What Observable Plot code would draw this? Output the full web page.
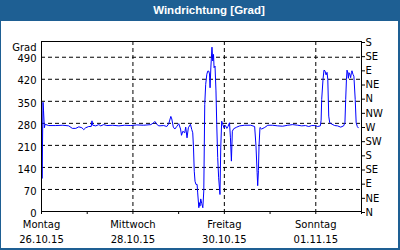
<!DOCTYPE html>
<html><head><meta charset="utf-8">
<script src="https://cdn.jsdelivr.net/npm/d3@7"></script>
<script src="https://cdn.jsdelivr.net/npm/@observablehq/plot@0.6"></script>
<style>
html,body{margin:0;padding:0;background:#fff;}
#wrap{position:relative;width:400px;height:250px;overflow:hidden;}
#chart{position:absolute;left:0;top:0;}
#border{position:absolute;left:0;top:0;width:400px;height:250px;box-sizing:border-box;border-style:solid;border-color:#1e5f93;border-width:21px 2px 2px 1px;pointer-events:none;}
#title{position:absolute;top:4px;left:209px;transform:translateX(-50%);color:#fff;font:bold 11.5px "Liberation Sans",sans-serif;white-space:nowrap;}
</style></head>
<body><div id="wrap"><div id="chart"></div><div id="border"></div><div id="title">Windrichtung [Grad]</div></div>
<script>
// hours since Montag 26.10.15 00:00
const hours = [0.2,0.3,0.8,1.05,1.5,1.9,3.8,7.5,11.2,14.3,16.2,18,19.6,21.2,22.2,23.2,24.8,26.1,26.5,26.9,28.5,30.1,31.1,32.7,34.3,37.4,40.6,43.7,46.9,50,53.7,
57.4,58.9,59.5,60.3,61.6,64.2,65.8,66.8,67.9,68.4,69.2,70,71,
72.05,73,73.5,74.2,75.2,75.7,76.4,77.1,78.2,78.9,79.4,79.8,80.2,80.6,81.1,81.7,82,82.6,82.9,83.2,83.6,84.1,84.7,85.2,85.7,86.2,86.8,87.3,87.8,88.2,88.5,88.9,89.2,89.5,89.9,90.3,90.6,91.1,91.6,92,92.5,93,93.7,94.1,94.6,95.2,95.8,96.6,97.3,97.9,98.7,99.2,99.7,100.2,100.9,102.5,104.1,
106.7,109.9,111.9,112.6,113.2,113.5,113.9,114.2,114.7,115.6,117.2,118.8,121.4,124,126.6,129.3,131.9,134.5,136.6,
138.6,140.3,141.9,143.5,145,146.4,146.8,147.1,147.8,148.3,148.8,149.4,149.9,150.3,150.8,151.3,152.3,153.9,155.4,157.1,158.6,159.3,159.7,160.1,160.4,160.8,161.1,161.4,161.8,162.3,162.7,163,163.5,164,164.7,165.2,165.8,166.3];
const degrees = [268,105,347,322,266,277,273,273,274,272,264,264,269,266,260,266,270,270,288,274,272,276,272,276,273,274,272,274,273,275,274,
276,282,286,278,272,273,270,279,302,294,268,262,270,
279,262,242,255,250,268,234,266,277,260,250,202,128,96,86,86,59,12,28,17,40,26,12,65,340,404,436,446,446,437,393,456,489,522,478,499,457,462,383,277,171,107,54,202,287,276,266,273,264,270,282,234,160,255,263,268,272,
274,274,270,209,124,82,130,209,267,262,267,274,274,272,271,274,276,274,272,
273,270,273,273,270,272,290,356,420,449,447,434,442,420,303,282,278,273,272,268,272,282,356,420,449,440,423,441,437,425,441,447,436,430,356,282,270,266];

const leftTicks = [0,70,140,210,280,350,420,490];
const compassTicks = [0,45,90,135,180,225,270,315,360,405,450,495,540];
const compassLabels = ["N","NE","E","SE","S","SW","W","NW","N","NE","E","SE","S"];
const dayTicks = [0,24,48,72,96,120,144,168];
const labelTicks = [0,48,96,144];
const dayLabels = ["Montag","Mittwoch","Freitag","Sonntag"];
const dateLabels = ["26.10.15","28.10.15","30.10.15","01.11.15"];
const yLabel = "Grad";

const data = hours.map((h, i) => ({h, deg: degrees[i]}));

const chart = Plot.plot({
  width: 400, height: 250,
  marginLeft: 41, marginRight: 39, marginTop: 41, marginBottom: 39,
  style: {fontFamily: "DejaVu Sans", fontSize: "10px", color: "#000", background: "transparent"},
  x: {domain: [0, 168]},
  y: {domain: [0, 540]},
  marks: [
    Plot.ruleY(leftTicks.slice(1), {stroke: "#000", strokeDasharray: "4,3"}),
    Plot.ruleX(labelTicks.slice(1), {stroke: "#000", strokeDasharray: "4,3"}),
    Plot.line(data, {x: "h", y: "deg", stroke: "#0000ff", strokeWidth: 1}),
    Plot.frame({stroke: "#000"}),
    Plot.axisY({ticks: leftTicks, tickSize: 0, tickPadding: 5, label: null, dy: 2}),
    Plot.axisY({anchor: "right", ticks: compassTicks, tickFormat: d => compassLabels[compassTicks.indexOf(d)], tickSize: 3, tickPadding: 1, label: null, dy: 1}),
    Plot.axisX({ticks: dayTicks, tickSize: 3, tickFormat: () => "", label: null}),
    Plot.axisX({ticks: labelTicks, tickSize: 0, tickPadding: 9, tickFormat: d => dayLabels[labelTicks.indexOf(d)], label: null}),
    Plot.axisX({ticks: labelTicks, tickSize: 0, tickPadding: 24, tickFormat: d => dateLabels[labelTicks.indexOf(d)], label: null}),
    Plot.text([yLabel], {frameAnchor: "top-left", text: d => d, dx: -5, dy: 2.5, textAnchor: "end"})
  ]
});
document.getElementById("chart").appendChild(chart);
</script>
</body></html>
